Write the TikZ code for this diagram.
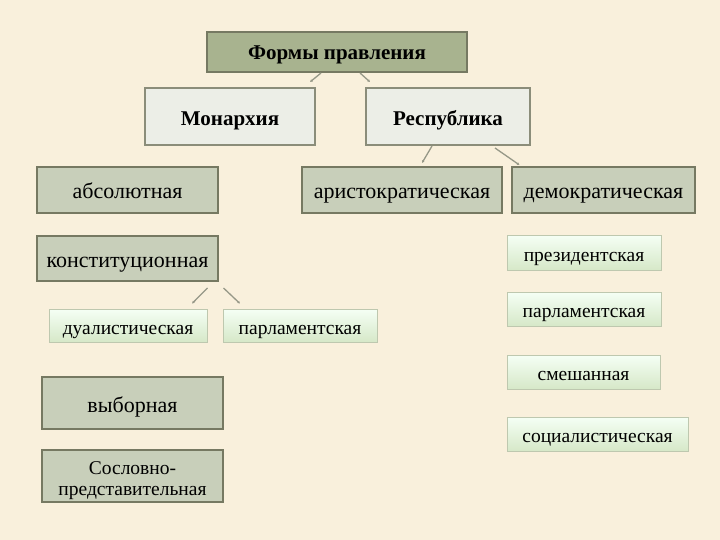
\documentclass[tikz,border=0pt]{standalone}
\usepackage{fontspec}
\setmainfont{Liberation Serif}
\usetikzlibrary{arrows.meta}
\definecolor{bgc}{RGB}{249,240,220}
\definecolor{topfill}{RGB}{168,179,143}
\definecolor{darkborder}{RGB}{118,121,98}
\definecolor{lightfill}{RGB}{236,238,231}
\definecolor{midfill}{RGB}{200,207,186}
\definecolor{paleborder}{RGB}{190,200,175}
\definecolor{conn}{RGB}{150,152,135}
\tikzset{
  topbox/.style={inner sep=0pt, text height=17.5pt, text depth=1.5pt, draw=darkborder, line width=2pt, fill=topfill, font=\fontsize{21}{23}\selectfont\bfseries},
  catbox/.style={inner sep=0pt, text height=18.5pt, text depth=0.5pt, draw=darkborder!85, line width=2pt, fill=lightfill, font=\fontsize{21}{23}\selectfont\bfseries},
  darkbox/.style={inner sep=0pt, text height=19pt, text depth=1pt, draw=darkborder, line width=2pt, fill=midfill, font=\fontsize{22}{24}\selectfont},
  twoline/.style={inner sep=0pt, draw=darkborder, line width=2pt, fill=midfill, font=\fontsize{19.5}{21}\selectfont},
  lightbox/.style={inner sep=0pt, text height=17.5pt, text depth=0.5pt, draw=paleborder, line width=0.8pt, top color=white!96!green, bottom color={rgb,255:red,214;green,232;blue,200}, font=\fontsize{19.5}{21}\selectfont},
  link/.style={draw=conn, line width=1.3pt, -{Latex[length=2.5pt,width=3pt]}}
}
\begin{document}
\begin{tikzpicture}[x=1pt,y=-1pt]
\fill[bgc] (0,0) rectangle (720,540);
\useasboundingbox (0,0) rectangle (720,540);
% top
\node[topbox, minimum width=260pt, minimum height=40pt] (top) at (337,52) {Формы правления};
\node[catbox, minimum width=170pt, minimum height=57pt] (mon) at (230,116.5) {Монархия};
\node[catbox, minimum width=164pt, minimum height=57pt] (rep) at (448,116.5) {Республика};
% monarchy branch
\node[darkbox, minimum width=181pt, minimum height=46pt] (abs) at (127.5,190) {абсолютная};
\node[darkbox, minimum width=181pt, minimum height=45pt] (kon) at (127.5,258.5) {конституционная};
\node[lightbox, minimum width=158pt, minimum height=33pt] (dual) at (128,325.5) {дуалистическая};
\node[lightbox, minimum width=154pt, minimum height=33pt] (parl1) at (300,325.5) {парламентская};
\node[darkbox, minimum width=181pt, minimum height=52pt] (vyb) at (132.5,403) {выборная};
\node[twoline, minimum width=181pt, minimum height=52pt] (sos) at (132.5,476) {\raisebox{-5pt}[\height][\depth]{\begin{tabular}{@{}c@{}}Сословно-\\представительная\end{tabular}}};
% republic branch
\node[darkbox, minimum width=200pt, minimum height=46pt] (ari) at (402,190) {аристократическая};
\node[darkbox, minimum width=183pt, minimum height=46pt] (dem) at (603.5,190) {демократическая};
\node[lightbox, minimum width=154pt, minimum height=35pt] (pres) at (584,252.5) {президентская};
\node[lightbox, minimum width=154pt, minimum height=34pt] (parl2) at (584,309) {парламентская};
\node[lightbox, minimum width=153pt, minimum height=34pt] (mix) at (583.5,372) {смешанная};
\node[lightbox, minimum width=181pt, minimum height=34pt] (soc) at (597.5,434) {социалистическая};
% connectors
\draw[link] ([xshift=-16pt]top.south) -- ([xshift=80pt,yshift=5pt]mon.north);
\draw[link] ([xshift=23pt]top.south) -- ([xshift=-78pt,yshift=5pt]rep.north);
\draw[link] ([xshift=-16pt]rep.south) -- ([xshift=20pt,yshift=3pt]ari.north);
\draw[link] ([xshift=47pt,yshift=-2pt]rep.south) -- ([xshift=-84pt,yshift=1pt]dem.north);
\draw[link] ([xshift=80pt,yshift=-6pt]kon.south) -- ([xshift=64pt,yshift=5pt]dual.north);
\draw[link] ([xshift=96pt,yshift=-6pt]kon.south) -- ([xshift=-60pt,yshift=5pt]parl1.north);
\end{tikzpicture}
\end{document}
